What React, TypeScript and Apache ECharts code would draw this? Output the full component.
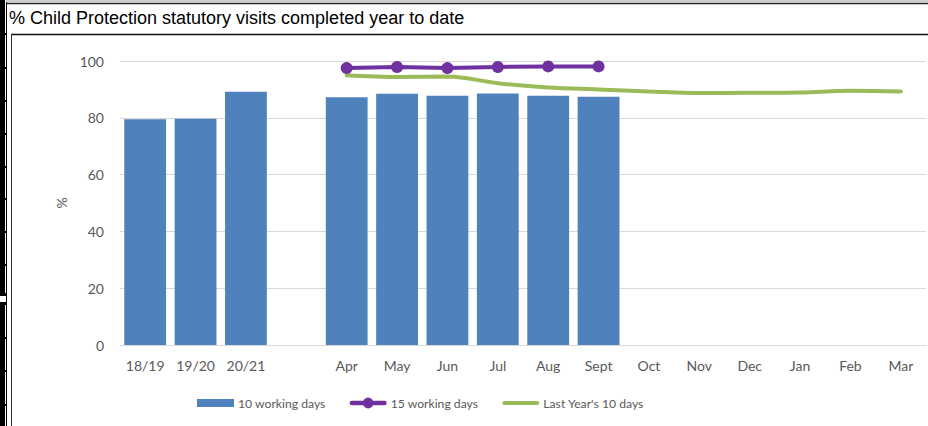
import React, { useEffect, useRef } from "react";
import * as echarts from "echarts";

const categories = ["18/19", "19/20", "20/21", "", "Apr", "May", "Jun", "Jul", "Aug", "Sept", "Oct", "Nov", "Dec", "Jan", "Feb", "Mar"];
const tenWorkingDays = [79.5, 79.7, 89.2, null, 87.2, 88.5, 87.8, 88.6, 87.8, 87.4, null, null, null, null, null, null];
const fifteenWorkingDays = [null, null, null, null, 97.5, 97.9, 97.5, 97.9, 98.1, 98.1, null, null, null, null, null, null];
const lastYearTenDays = [null, null, null, null, 95.0, 94.4, 94.5, 92.2, 90.7, 90.0, 89.3, 88.7, 88.8, 88.9, 89.5, 89.3];
const yTicks = { min: 0, max: 100, interval: 20 };

const TITLE = "% Child Protection statutory visits completed year to date";
const AXIS_FONT = "Lato";
const TEXT_COLOR = "#595959";

const ICON_BAR = "path://M0,0M37,11M0,1.5h37v8h-37z";
const ICON_PURPLE =
  "path://M0,0M37,11M2,3.2h33a2.3,2.3 0 0 1 0,4.6h-33a2.3,2.3 0 0 1 0,-4.6zM13,5.5a5.5,5.5 0 1,1 11,0a5.5,5.5 0 1,1 -11,0z";
const ICON_GREEN = "path://M0,0M37,11M2,3.5h33a2,2 0 0 1 0,4h-33a2,2 0 0 1 0,-4z";

export default function App() {
  const ref = useRef<HTMLDivElement>(null);
  useEffect(() => {
    if (!ref.current) return;
    const chart = echarts.init(ref.current, null, { renderer: "svg" });
    const ticksY = [33, 67, 100, 133, 166, 198, 231, 264, 337, 370, 404];
    const frame: any[] = [
      { type: "rect", shape: { x: 0, y: 0, width: 5, height: 296 }, style: { fill: "#000" }, z: 100 },
      { type: "rect", shape: { x: 0, y: 302, width: 5, height: 124 }, style: { fill: "#000" }, z: 100 },
      { type: "line", shape: { x1: 0, y1: 294.5, x2: 7, y2: 294.5 }, style: { stroke: "#000", lineWidth: 3 } },
      { type: "line", shape: { x1: 0, y1: 303.5, x2: 7, y2: 303.5 }, style: { stroke: "#000", lineWidth: 3 } },
      ...ticksY.map((y) => ({
        type: "line",
        shape: { x1: 4, y1: y + 1, x2: 7, y2: y + 1 },
        style: { stroke: "#000", lineWidth: 2 },
      })),
      { type: "line", shape: { x1: 6.5, y1: 2, x2: 6.5, y2: 426 }, style: { stroke: "#000", lineWidth: 1 } },
      { type: "line", shape: { x1: 6, y1: 1, x2: 928, y2: 1 }, style: { stroke: "#9a9a9a", lineWidth: 1 } },
      { type: "line", shape: { x1: 6, y1: 3.5, x2: 928, y2: 3.5 }, style: { stroke: "#222", lineWidth: 1.5 } },
      { type: "line", shape: { x1: 11, y1: 34.5, x2: 928, y2: 34.5 }, style: { stroke: "#111", lineWidth: 1.5 } },
      { type: "line", shape: { x1: 11.5, y1: 34, x2: 11.5, y2: 426 }, style: { stroke: "#333", lineWidth: 1 } },
    ];
    chart.setOption({
      animation: false,
      title: {
        text: TITLE,
        left: 9,
        top: 9,
        padding: 0,
        textStyle: { fontFamily: "Liberation Sans", fontSize: 18, fontWeight: "normal", color: "#000" },
      },
      graphic: { elements: frame },
      grid: { left: 120, right: 2, top: 61, bottom: 81 },
      legend: {
        left: 197,
        top: 397,
        padding: 0,
        itemWidth: 37,
        itemHeight: 11,
        itemGap: 24,
        textStyle: { fontFamily: AXIS_FONT, fontSize: 12.2, color: TEXT_COLOR, padding: [0, 0, 0, -1] },
        data: [
          { name: "10 working days", icon: ICON_BAR },
          { name: "15 working days", icon: ICON_PURPLE },
          { name: "Last Year's 10 days", icon: ICON_GREEN },
        ],
      },
      xAxis: {
        type: "category",
        data: categories,
        boundaryGap: true,
        axisLine: { lineStyle: { color: "#d9d9d9", width: 1 } },
        axisTick: { show: false },
        axisLabel: { interval: 0, margin: 13, fontFamily: AXIS_FONT, fontSize: 14, color: TEXT_COLOR },
      },
      yAxis: {
        type: "value",
        min: yTicks.min,
        max: yTicks.max,
        interval: yTicks.interval,
        name: "%",
        nameLocation: "middle",
        nameGap: 52,
        nameRotate: 90,
        nameTextStyle: { fontFamily: AXIS_FONT, fontSize: 14, color: TEXT_COLOR },
        axisLine: { show: false },
        axisTick: { show: false },
        axisLabel: { margin: 16, fontFamily: AXIS_FONT, fontSize: 14, color: TEXT_COLOR },
        splitLine: { lineStyle: { color: "#d9d9d9", width: 1 } },
      },
      series: [
        {
          name: "10 working days",
          type: "bar",
          data: tenWorkingDays,
          barCategoryGap: "17%",
          itemStyle: { color: "#4f81bd" },
        },
        {
          name: "15 working days",
          type: "line",
          data: fifteenWorkingDays,
          symbol: "circle",
          symbolSize: 12,
          lineStyle: { color: "#7030a0", width: 4 },
          itemStyle: { color: "#7030a0" },
          z: 4,
        },
        {
          name: "Last Year's 10 days",
          type: "line",
          data: lastYearTenDays,
          smooth: 0.35,
          showSymbol: false,
          symbol: "none",
          lineStyle: { color: "#9bbb59", width: 4, cap: "round" },
          itemStyle: { color: "#9bbb59" },
          z: 3,
        },
      ],
    });
    return () => chart.dispose();
  }, []);
  return <div ref={ref} style={{ position: "absolute", left: 0, top: 0, width: 928, height: 426 }} />;
}
